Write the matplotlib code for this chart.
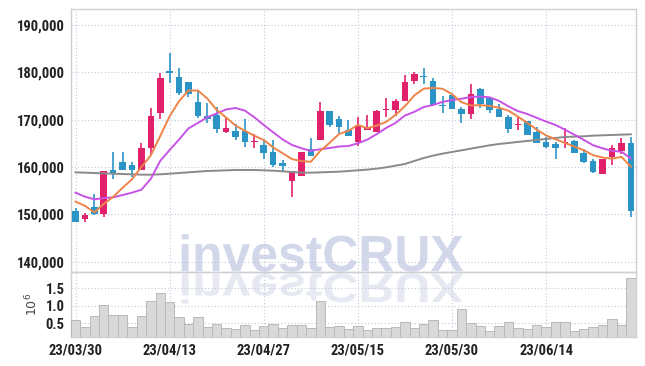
import matplotlib.pyplot as plt
from matplotlib import font_manager
from matplotlib.patches import PathPatch
from matplotlib.textpath import TextPath
from matplotlib.font_manager import FontProperties
from matplotlib.transforms import Affine2D, IdentityTransform
from matplotlib.ticker import FuncFormatter

# daily candles, 23/03/30 .. 23/06/27 (60 trading days)
opens = [150700, 148950, 151550, 150000, 159370, 161060, 160490, 159440, 163940, 171480,
         180280, 179010, 177960, 173730, 170840, 170990, 167390, 167610, 167610, 165350,
         164650, 163170, 160850, 157110, 158170, 163730, 165710, 171830, 170210, 167820,
         165350, 167820, 167470, 172040, 172040, 174010, 178240, 179200, 178170, 173100,
         175140, 172250, 171270, 176480, 174650, 172250, 170630, 168870, 169720, 167320,
         165210, 164860, 165000, 165490, 162890, 161200, 158450, 162040, 163450, 165000]
highs = [151270, 150350, 154230, 159160, 163100, 163100, 160990, 165000, 172400, 179790,
         184010, 180850, 177960, 176270, 173450, 172750, 170490, 169020, 170140, 166900,
         165710, 165710, 161480, 159160, 163240, 166200, 173660, 171830, 170700, 169930,
         170490, 170990, 172040, 174510, 174300, 179370, 180140, 180850, 178870, 175070,
         175560, 172610, 177470, 176690, 174650, 173240, 170920, 170630, 169720, 168520,
         166410, 165350, 168310, 165710, 163800, 161620, 161620, 164650, 166060, 166410]
lows = [148310, 148450, 149860, 149370, 157470, 159370, 157960, 159440, 162540, 170140,
        177680, 175140, 174860, 170420, 169370, 167250, 167110, 165710, 164300, 163940,
        161620, 160070, 159090, 153730, 158170, 162400, 165710, 168520, 167110, 166550,
        164510, 167820, 167470, 170490, 170850, 174010, 177540, 177470, 173030, 171340,
        172320, 169370, 170070, 172400, 171340, 170490, 167110, 167820, 166830, 165000,
        163940, 161620, 163940, 163030, 160920, 158660, 158450, 160420, 162750, 149370]
closes = [148450, 149860, 150000, 159160, 158520, 159440, 159440, 164020, 170770, 178800,
          179790, 175700, 175490, 170770, 170210, 167960, 168240, 166410, 165350, 165460,
          163030, 160420, 160280, 159160, 163240, 162400, 171830, 168870, 168520, 166550,
          168660, 168310, 171830, 172200, 173940, 177960, 179650, 178940, 173030, 172960,
          172320, 171270, 175350, 173380, 172110, 170490, 168100, 169090, 166830, 165000,
          164300, 164080, 165210, 163030, 161130, 159020, 161620, 163940, 165000, 150780]
volumes = [590000, 390000, 710000, 1020000, 730000, 730000, 390000, 710000, 1130000, 1360000,
           1110000, 680000, 490000, 680000, 390000, 490000, 360000, 330000, 450000, 310000,
           430000, 480000, 360000, 450000, 450000, 360000, 1140000, 390000, 420000, 330000,
           420000, 310000, 360000, 360000, 390000, 530000, 360000, 480000, 590000, 310000,
           310000, 900000, 510000, 420000, 280000, 420000, 530000, 360000, 330000, 450000,
           390000, 530000, 530000, 280000, 330000, 390000, 450000, 620000, 450000, 1790000]

# moving averages as drawn on the chart
ma_short = [152680, 151800, 150420, 152190, 153700, 155600, 157400, 160000, 162450, 166550,
            170700, 173900, 176150, 176150, 174450, 172050, 170450, 168750, 167650, 166600,
            165700, 164130, 162910, 161670, 161230, 161100, 163380, 165100, 166970, 167630,
            168890, 168180, 168770, 169510, 170990, 172850, 175120, 176540, 176700, 176510,
            175380, 173700, 172990, 173060, 172890, 172520, 171890, 170630, 169320, 167900,
            166660, 165860, 165080, 164320, 163550, 162490, 162000, 161750, 162140, 160070]
ma_mid = [154580, 153730, 153170, 153450, 153590, 154080, 154580, 155200, 157500, 161300,
          163600, 165800, 168150, 169300, 170500, 171300, 172150, 172450, 171900, 170500,
          168870, 167330, 165820, 164650, 163960, 163400, 163760, 164000, 164320, 164430,
          165000, 165780, 166940, 168240, 169310, 170870, 171650, 172660, 173100, 173750,
          174120, 174410, 174770, 174880, 174700, 173950, 172800, 171810, 171190, 170400,
          169590, 168880, 167860, 166820, 165730, 164580, 163930, 163420, 163230, 161810]
ma_long = [158870, 158800, 158730, 158660, 158590, 158520, 158450, 158380, 158380, 158450,
           158590, 158730, 158870, 159010, 159150, 159220, 159300, 159370, 159370, 159370,
           159300, 159220, 159080, 158940, 158800, 158800, 158870, 158940, 159010, 159150,
           159300, 159440, 159650, 159930, 160280, 160630, 161270, 161900, 162400, 162820,
           163170, 163520, 163880, 164230, 164580, 164860, 165070, 165290, 165500, 165710,
           165920, 166130, 166340, 166410, 166480, 166620, 166690, 166760, 166830, 166900]

tick_pos = [0, 10, 20, 30, 40, 50]
tick_labels = ['23/03/30', '23/04/13', '23/04/27', '23/05/15', '23/05/30', '23/06/14']
price_ticks = [140000, 150000, 160000, 170000, 180000, 190000]
vol_ticks = [0.5, 1.0, 1.5]

up_color = '#e2216b'
down_color = '#2b94c6'
grid_color = '#c3c8dc'
frame_color = '#cfcfd6'

# pick a narrow face for the tick labels if one is installed
fonts = font_manager.fontManager.ttflist
names = {f.name for f in fonts}
label_stretch = 'normal'
if 'Liberation Sans Narrow' in names:
    label_family, label_size = 'Liberation Sans Narrow', 10.5
elif 'Roboto Condensed' in names:
    label_family, label_size = 'Roboto Condensed', 10.5
elif any(f.name == 'DejaVu Sans' and str(f.stretch) in ('condensed', 'semi-condensed')
         for f in fonts):
    label_family, label_size, label_stretch = 'DejaVu Sans', 9.5, 'condensed'
else:
    label_family, label_size = 'Roboto', 9.3

fig = plt.figure(figsize=(6.45, 3.66), dpi=100)
fig.patch.set_facecolor('white')

# watermark (and its reflection), behind everything
wm_prop = FontProperties(family='Liberation Sans', weight='bold')
tp = TextPath((0, 0), 'investCRUX', size=52, prop=wm_prop)
bb = tp.get_extents()
sx = 281.5 / bb.width
sy = 37.5 / bb.height
t_main = Affine2D().translate(-bb.x0, -bb.y0).scale(sx, sy).translate(181.7, 366 - 271.7)
t_refl = Affine2D().translate(-bb.x0, -bb.y0).scale(sx, -sy * 0.8).translate(181.7, 366 - 273.5)
fig.add_artist(PathPatch(tp, transform=t_main + IdentityTransform(),
                         facecolor='#d2d8ea', edgecolor='none', zorder=-5))
fig.add_artist(PathPatch(tp, transform=t_refl + IdentityTransform(),
                         facecolor='#e6e9f2', edgecolor='none', zorder=-5))

ax = fig.add_axes([0.1098, 0.256, 0.8755, 0.7186])
axv = fig.add_axes([0.1098, 0.0784, 0.8755, 0.1776], sharex=ax)

x = list(range(len(closes)))

# candles
for i in x:
    o, h, l, c = opens[i], highs[i], lows[i], closes[i]
    col = up_color if c >= o else down_color
    ax.vlines(i, l, h, color=col, linewidth=1.2, zorder=3)
    body = max(abs(c - o), 250)
    bottom = min(o, c) if abs(c - o) >= 250 else (o + c) / 2 - 125
    ax.bar(i, body, bottom=bottom, width=0.7, color=col, linewidth=0, zorder=4)

ax.plot(x, ma_long, color='#8a8a8a', linewidth=1.4, zorder=5)
ax.plot(x, ma_mid, color='#c752e6', linewidth=1.4, zorder=5)
ax.plot(x, ma_short, color='#ee8448', linewidth=1.4, zorder=6)

ax.set_xlim(-0.5, 59.5)
ax.set_ylim(137760, 193300)
ax.set_yticks(price_ticks)
ax.yaxis.set_major_formatter(FuncFormatter(lambda v, p: f'{v:,.0f}'))
ax.set_xticks(tick_pos)
ax.tick_params(axis='x', labelbottom=False, length=0)
ax.tick_params(axis='y', length=0, pad=4.5, labelcolor='#222222')

# volume
axv.bar(x, [v / 1e6 for v in volumes], width=1.0, color='#d9d9d9',
        edgecolor='#b9b9b9', linewidth=0.7, zorder=3)
axv.set_ylim(0.1, 1.96)
axv.set_yticks(vol_ticks)
axv.set_yticklabels(['0.5', '1.0', '1.5'])
axv.set_xticks(tick_pos)
axv.set_xticklabels(tick_labels)
axv.tick_params(axis='both', length=0, labelcolor='#222222')
axv.tick_params(axis='y', pad=4.5)
axv.tick_params(axis='x', pad=4.5)

for a in (ax, axv):
    a.set_facecolor('none')
    a.grid(True, linestyle=(0, (1, 2)), color=grid_color, linewidth=0.8, zorder=1)
    a.set_axisbelow(True)
    for s in a.spines.values():
        s.set_color(frame_color)
        s.set_linewidth(1.0)
    for lab in a.get_xticklabels() + a.get_yticklabels():
        lab.set_family(label_family)
        lab.set_fontstretch(label_stretch)
        lab.set_fontsize(label_size)
        lab.set_fontweight('bold')

fig.text(32.5 / 645, 1 - 304 / 366, r'$10^6$', rotation=90, ha='center', va='center',
         fontsize=9, color='#444444')

fig.savefig('out.png', dpi=100)
